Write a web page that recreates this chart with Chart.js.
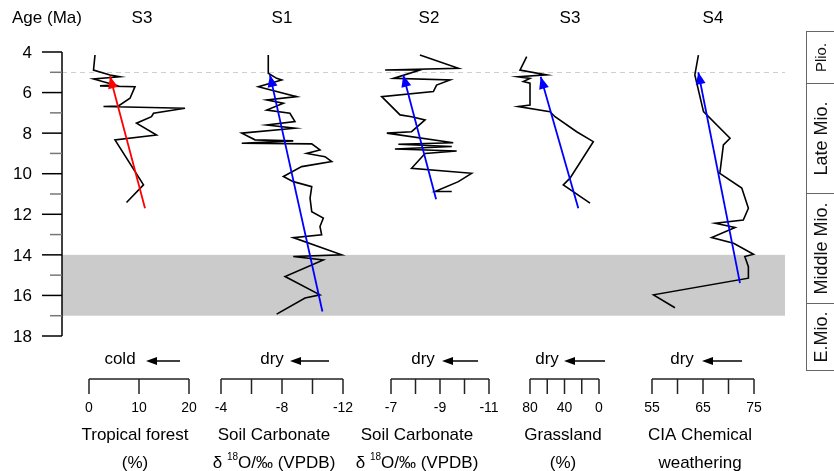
<!DOCTYPE html>
<html>
<head>
<meta charset="utf-8">
<script src="https://cdn.jsdelivr.net/npm/chart.js@4.4.0/dist/chart.umd.min.js"></script>
<style>
html, body { margin: 0; padding: 0; background: #fff; }
</style>
</head>
<body>
<canvas id="ageChart" width="834" height="471"></canvas>
<script>
// Dados (idade em Ma, valor no eixo de baixo)
const forestAge = [4.15, 4.89, 5.13, 5.22, 5.33, 5.63, 5.67, 5.71, 6.28, 6.66, 6.69, 6.77, 7.02, 7.19, 7.51, 8.09, 8.33, 10.55, 11.42];
const forestPct = [1.2, 0.9, 4.2, 6.2, 0.9, 5.2, 2.2, 9.2, 8.2, 5.9, 2.9, 19.2, 12.9, 12.5, 9.5, 13.5, 5.2, 10.9, 7.5];

const s1Age = [4.15, 5.05, 5.30, 5.38, 5.71, 6.20, 6.36, 6.53, 6.86, 7.02, 7.43, 7.60, 7.76, 8.00, 8.33, 8.38, 8.50, 8.53, 8.83, 9.00, 9.16, 9.40, 9.65, 10.14, 10.39, 10.64, 11.21, 11.87, 12.19, 12.60, 13.01, 13.15, 14.00, 14.08, 14.25, 15.07, 15.97, 16.13, 16.92];
const s1O18 = [-7.1, -7.1, -7.65, -7.98, -6.45, -8.96, -7.0, -8.09, -7.0, -8.52, -8.85, -7.0, -8.85, -5.36, -6.23, -8.74, -5.36, -9.95, -10.49, -9.62, -10.82, -11.26, -9.29, -8.09, -8.74, -9.95, -9.84, -9.95, -10.71, -10.49, -10.6, -8.74, -11.91, -8.74, -10.71, -8.2, -10.49, -9.51, -7.65];

const s2Age = [4.15, 4.80, 4.89, 4.89, 5.30, 5.38, 5.63, 5.95, 6.20, 7.10, 7.19, 7.35, 7.93, 8.00, 8.47, 8.55, 8.66, 8.78, 8.88, 9.00, 9.73, 9.98, 10.39, 10.88, 10.88];
const s2O18 = [-8.18, -9.75, -6.76, -8.18, -7.10, -9.41, -8.86, -8.73, -6.62, -7.37, -7.84, -8.39, -7.84, -6.83, -9.54, -7.30, -9.48, -7.16, -9.68, -8.39, -7.84, -10.29, -9.75, -8.80, -9.48];

const grassAge = [4.23, 4.89, 5.13, 5.22, 5.30, 5.46, 5.54, 6.61, 6.69, 6.94, 7.19, 7.93, 8.42, 10.22, 10.55, 11.45];
const grassPct = [83.8, 91.6, 60.6, 93.6, 80.0, 87.8, 80.0, 80.0, 93.6, 56.8, 51.0, 25.9, 6.6, 33.6, 41.4, 10.4];

const ciaAge = [4.15, 5.13, 6.94, 8.25, 8.58, 9.98, 10.71, 11.70, 12.28, 12.44, 12.65, 13.15, 13.43, 13.97, 14.08, 14.58, 15.15, 15.97, 16.61];
const ciaVal = [64.1, 63.4, 65.1, 70.3, 69.0, 68.3, 72.6, 73.9, 72.9, 67.4, 71.3, 66.7, 71.0, 74.9, 73.2, 73.9, 73.9, 55.3, 59.5];

// Setas de tendência: [início, ponta]
const forestTrendAge = [11.7, 5.2];   const forestTrendVal = [11.2, 4.2];
const s1TrendAge = [16.79, 5.13];     const s1TrendVal = [-10.65, -7.21];
const s2TrendAge = [11.26, 5.13];     const s2TrendVal = [-8.84, -7.5];
const grassTrendAge = [11.7, 5.22];   const grassTrendVal = [24.0, 67.6];
const ciaTrendAge = [15.39, 5.0];     const ciaTrendVal = [72.25, 64.08];

// Eixo de idade
const ageMajor = [4, 6, 8, 10, 12, 14, 16, 18];
const ageMinor = [5, 7, 9, 11, 13, 15, 17];
const bandAges = [14, 17];
const dashedAge = 5;

// Eixos de baixo
const forestTicks = [0, 10, 20];           const forestLabels = [0, 10, 20];
const s1Ticks = [-4, -6, -8, -10, -12];    const s1Labels = [-4, -8, -12];
const s2Ticks = [-7, -8, -9, -10, -11];    const s2Labels = [-7, -9, -11];
const grassTicks = [80, 60, 40, 20, 0];    const grassLabels = [80, 40, 0];
const ciaTicks = [55, 60, 65, 70, 75];     const ciaLabels = [55, 65, 75];

// Épocas (limites em Ma, como desenhados na coluna da direita)
const epochBounds = [2.97, 5.53, 10.95, 16.37, 19.67];
const epochNames = ['Plio.', 'Late Mio.', 'Middle Mio.', 'E.Mio.'];

const AREA_L = 62, AREA_R = 785;
const FONT = '"Liberation Sans", Arial, sans-serif';

// Layout de cada painel
const panels = [
    { id: 'xForest', map: [0, 89, 20, 189], ticks: forestTicks, labels: forestLabels, title: 'S3', titleX: 142,
      dir: 'cold', dirX: 120, arrow: [146, 180], name: 'Tropical forest', sub: '(%)', nameX: 135 },
    { id: 'xS1', map: [-4, 221, -12, 343], ticks: s1Ticks, labels: s1Labels, title: 'S1', titleX: 282,
      dir: 'dry', dirX: 272, arrow: [290, 329], name: 'Soil Carbonate', iso: true, nameX: 274 },
    { id: 'xS2', map: [-7, 391, -11, 489], ticks: s2Ticks, labels: s2Labels, title: 'S2', titleX: 429,
      dir: 'dry', dirX: 423, arrow: [442, 478], name: 'Soil Carbonate', iso: true, nameX: 417 },
    { id: 'xGrass', map: [80, 530, 0, 599], ticks: grassTicks, labels: grassLabels, title: 'S3', titleX: 570,
      dir: 'dry', dirX: 547, arrow: [564, 605], name: 'Grassland', sub: '(%)', nameX: 563 },
    { id: 'xCia', map: [55, 652, 75, 754], ticks: ciaTicks, labels: ciaLabels, title: 'S4', titleX: 713,
      dir: 'dry', dirX: 682, arrow: [702, 742], name: 'CIA Chemical', sub: 'weathering', nameX: 700 }
];

function panelScale(map) {
    const [a, pa, b, pb] = map;
    const k = (b - a) / (pb - pa);
    const vL = a - (pa - AREA_L) * k;
    const vR = a + (AREA_R - pa) * k;
    return {
        type: 'linear', display: false, bounds: 'data',
        reverse: vL > vR, min: Math.min(vL, vR), max: Math.max(vL, vR)
    };
}

function toPoints(vals, ages) {
    return vals.map((v, i) => ({ x: v, y: ages[i] }));
}

function series(id, vals, ages) {
    return {
        data: toPoints(vals, ages), xAxisID: id, yAxisID: 'y', order: 1,
        borderColor: '#000', borderWidth: 1.6, pointRadius: 0, tension: 0, fill: false
    };
}

function trend(id, vals, ages, color) {
    return {
        data: toPoints(vals, ages), xAxisID: id, yAxisID: 'y', order: 0, trend: true,
        borderColor: color, borderWidth: 1.8, pointRadius: 0, tension: 0, fill: false
    };
}

function arrowLeft(ctx, xHead, xTail, y) {
    ctx.beginPath();
    ctx.moveTo(xHead + 6, y);
    ctx.lineTo(xTail, y);
    ctx.stroke();
    ctx.beginPath();
    ctx.moveTo(xHead, y);
    ctx.lineTo(xHead + 11, y - 4);
    ctx.lineTo(xHead + 11, y + 4);
    ctx.closePath();
    ctx.fill();
}

function drawIso(ctx, cx, y) {
    const big = '17px ' + FONT, small = '10px ' + FONT;
    const parts = [['δ ', big, 0], ['18', small, -6], ['O/‰ (VPDB)', big, 0]];
    let total = 0;
    parts.forEach(p => { ctx.font = p[1]; total += ctx.measureText(p[0]).width; });
    let x = cx - total / 2;
    ctx.textAlign = 'left';
    parts.forEach(p => {
        ctx.font = p[1];
        ctx.fillText(p[0], x, y + p[2]);
        x += ctx.measureText(p[0]).width;
    });
}

const decorPlugin = {
    id: 'decor',
    beforeDatasetsDraw(chart) {
        const { ctx, chartArea: a, scales: { y } } = chart;
        ctx.save();
        const yTop = y.getPixelForValue(bandAges[0]);
        const yBot = y.getPixelForValue(bandAges[1]);
        ctx.fillStyle = '#cbcbcb';
        ctx.fillRect(a.left, yTop, a.right - a.left, yBot - yTop);
        const yd = Math.round(y.getPixelForValue(dashedAge)) + 0.5;
        ctx.strokeStyle = '#cfcfcf';
        ctx.lineWidth = 1;
        ctx.setLineDash([5, 4]);
        ctx.beginPath();
        ctx.moveTo(a.left, yd);
        ctx.lineTo(a.right, yd);
        ctx.stroke();
        ctx.restore();
    },
    afterDatasetsDraw(chart) {
        const ctx = chart.ctx;
        ctx.save();
        chart.data.datasets.forEach((ds, i) => {
            if (!ds.trend) return;
            const pts = chart.getDatasetMeta(i).data;
            const tail = pts[0], tip = pts[pts.length - 1];
            const ang = Math.atan2(tip.y - tail.y, tip.x - tail.x);
            const len = 12, half = 5;
            const bx = tip.x - len * Math.cos(ang), by = tip.y - len * Math.sin(ang);
            ctx.fillStyle = ds.borderColor;
            ctx.beginPath();
            ctx.moveTo(tip.x, tip.y);
            ctx.lineTo(bx + half * Math.sin(ang), by - half * Math.cos(ang));
            ctx.lineTo(bx - half * Math.sin(ang), by + half * Math.cos(ang));
            ctx.closePath();
            ctx.fill();
        });
        ctx.restore();
    },
    afterDraw(chart) {
        const { ctx, chartArea: a, scales } = chart;
        const y = scales.y;
        ctx.save();
        ctx.fillStyle = '#000';
        ctx.strokeStyle = '#000';
        ctx.textBaseline = 'middle';

        // eixo de idade
        const x0 = a.left;
        ctx.lineWidth = 1.5;
        ctx.beginPath();
        ctx.moveTo(x0, y.getPixelForValue(ageMajor[0]));
        ctx.lineTo(x0, y.getPixelForValue(ageMajor[ageMajor.length - 1]));
        ctx.stroke();
        ctx.font = '17px ' + FONT;
        ctx.textAlign = 'right';
        ageMajor.forEach(v => {
            const py = y.getPixelForValue(v);
            ctx.beginPath();
            ctx.moveTo(x0 - 20, py);
            ctx.lineTo(x0, py);
            ctx.stroke();
            ctx.fillText(String(v), x0 - 30, py + 1);
        });
        ctx.strokeStyle = '#777';
        ageMinor.forEach(v => {
            const py = y.getPixelForValue(v);
            ctx.beginPath();
            ctx.moveTo(x0 - 12, py);
            ctx.lineTo(x0, py);
            ctx.stroke();
        });
        ctx.strokeStyle = '#000';

        ctx.textAlign = 'left';
        ctx.fillText('Age (Ma)', 12, 18);

        // painéis
        panels.forEach(p => {
            const sc = scales[p.id];
            ctx.font = '17px ' + FONT;
            ctx.textAlign = 'center';
            ctx.fillText(p.title, p.titleX, 18);

            ctx.fillText(p.dir, p.dirX, 359);
            ctx.strokeStyle = '#000';
            ctx.lineWidth = 1.5;
            arrowLeft(ctx, p.arrow[0], p.arrow[1], 361);

            const xs = p.ticks.map(v => sc.getPixelForValue(v));
            const left = Math.min(...xs), right = Math.max(...xs);
            ctx.strokeStyle = '#222';
            ctx.lineWidth = 1.5;
            ctx.beginPath();
            ctx.moveTo(left, 379);
            ctx.lineTo(right, 379);
            ctx.stroke();
            xs.forEach(px => {
                ctx.beginPath();
                ctx.moveTo(px, 379);
                ctx.lineTo(px, 394);
                ctx.stroke();
            });
            ctx.font = '14px ' + FONT;
            p.labels.forEach(v => {
                ctx.fillText(String(v), sc.getPixelForValue(v), 408);
            });

            ctx.font = '17px ' + FONT;
            ctx.fillText(p.name, p.nameX, 435);
            if (p.iso) {
                drawIso(ctx, p.nameX, 463);
            } else {
                ctx.textAlign = 'center';
                ctx.fillText(p.sub, p.nameX, 463);
            }
        });

        // coluna das épocas
        const bx = 806, bw = 28;
        ctx.strokeStyle = '#666';
        ctx.lineWidth = 1;
        const ys = epochBounds.map(v => Math.round(y.getPixelForValue(v)) + 0.5);
        ctx.beginPath();
        ctx.moveTo(bx + 0.5, ys[0]);
        ctx.lineTo(bx + 0.5, ys[ys.length - 1]);
        ctx.moveTo(bx + bw + 0.5, ys[0]);
        ctx.lineTo(bx + bw + 0.5, ys[ys.length - 1]);
        ys.forEach(py => {
            ctx.moveTo(bx, py);
            ctx.lineTo(bx + bw + 1, py);
        });
        ctx.stroke();
        epochNames.forEach((name, i) => {
            const cy = (ys[i] + ys[i + 1]) / 2;
            ctx.save();
            ctx.translate(bx + 16, cy);
            ctx.rotate(-Math.PI / 2);
            ctx.font = (i === 0 ? '15px ' : '18px ') + FONT;
            ctx.textAlign = 'center';
            ctx.fillStyle = '#111';
            ctx.fillText(name, 0, 0);
            ctx.restore();
        });
        ctx.restore();
    }
};

const scales = { y: { type: 'linear', display: false, reverse: true, min: 4, max: 18, bounds: 'data' } };
panels.forEach(p => { scales[p.id] = panelScale(p.map); });

const ctx = document.getElementById('ageChart').getContext('2d');
new Chart(ctx, {
    type: 'line',
    data: {
        datasets: [
            series('xForest', forestPct, forestAge),
            series('xS1', s1O18, s1Age),
            series('xS2', s2O18, s2Age),
            series('xGrass', grassPct, grassAge),
            series('xCia', ciaVal, ciaAge),
            trend('xForest', forestTrendVal, forestTrendAge, '#ff0000'),
            trend('xS1', s1TrendVal, s1TrendAge, '#0000ff'),
            trend('xS2', s2TrendVal, s2TrendAge, '#0000ff'),
            trend('xGrass', grassTrendVal, grassTrendAge, '#0000ff'),
            trend('xCia', ciaTrendVal, ciaTrendAge, '#0000ff')
        ]
    },
    options: {
        responsive: false,
        animation: false,
        devicePixelRatio: 1,
        layout: { padding: { left: AREA_L, right: 834 - AREA_R, top: 52, bottom: 471 - 336 } },
        scales: scales,
        plugins: { legend: { display: false }, tooltip: { enabled: false } }
    },
    plugins: [decorPlugin]
});
</script>
</body>
</html>
